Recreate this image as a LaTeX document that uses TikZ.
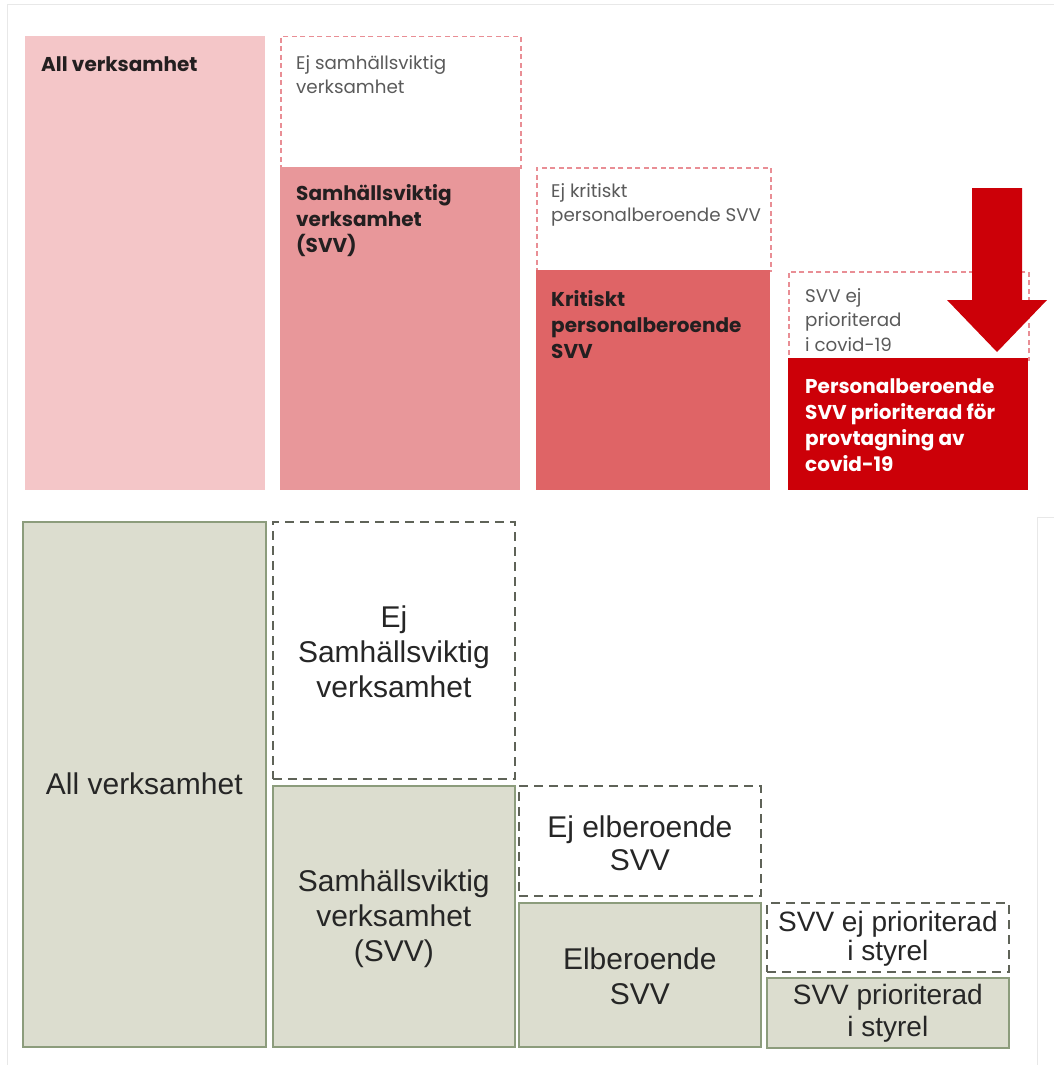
\documentclass[tikz,border=0pt]{standalone}
\usepackage{fontspec}
\setmainfont{Liberation Sans}
\newfontfamily\geofont{Poppins}
\usepackage{xcolor}
\usetikzlibrary{positioning}

\definecolor{rosaA}{HTML}{F4C6C8}
\definecolor{rosaB}{HTML}{E8979A}
\definecolor{rosaC}{HTML}{DF6466}
\definecolor{rodD}{HTML}{CC0008}
\definecolor{rosalinje}{HTML}{E98E95}
\definecolor{graatext}{HTML}{5A5A5A}
\definecolor{morktext}{HTML}{231F20}
\definecolor{salvia}{HTML}{DCDDCF}
\definecolor{salvialinje}{HTML}{8C9C7C}
\definecolor{streckgraa}{HTML}{5F6358}
\definecolor{ram}{HTML}{E8E8E8}

\tikzset{
  box/.style={rectangle, inner sep=0pt, anchor=north west},
  rosabox/.style={box, fill=#1},
  rosastreck/.style={box, draw=rosalinje, line width=1.5pt, dash pattern=on 5pt off 3.5pt},
  salviabox/.style={box, fill=salvia, draw=salvialinje, line width=1.6pt},
  salviastreck/.style={box, draw=streckgraa, line width=1.8pt, dash pattern=on 9pt off 6pt},
  fettext/.style={inner sep=0pt, align=left, text=morktext,
    font=\geofont\bfseries\fontsize{20}{26}\selectfont},
  tunntext/.style={inner sep=0pt, align=left, text=graatext,
    font=\geofont\fontsize{18.3}{24.5}\selectfont},
  mitttext/.style={inner sep=0pt, align=center, text=black!85,
    font=\fontsize{30}{35}\selectfont},
}

\begin{document}
\begin{tikzpicture}[x=1pt,y=-1pt]
\useasboundingbox (0,0) rectangle (1054,1065);
% svag ram runt bilderna
\draw[ram, line width=1pt] (7,5) -- (1054,5);
\draw[ram, line width=1pt] (7,5) -- (7,1065);
\draw[ram, line width=1pt] (1054,517) -- (1037,517) -- (1037,1065);

% ---- ovre delen
\node[rosabox=rosaA, minimum width=240pt, minimum height=454pt] (a1) at (25,36) {};
\node[rosastreck, minimum width=240pt, minimum height=131pt] (b1) at (280,36) {};
\node[rosabox=rosaB, minimum width=240pt, minimum height=323pt] (b2) at (280,167) {};
\node[rosastreck, minimum width=234pt, minimum height=103pt] (c1) at (536,167) {};
\node[rosabox=rosaC, minimum width=234pt, minimum height=220pt] (c2) at (536,270) {};
\node[rosastreck, minimum width=240pt, minimum height=88pt] (d1) at (788,271) {};
\node[rosabox=rodD, minimum width=240pt, minimum height=132pt] (d2) at (788,358) {};

\node[fettext, below right=20pt and 16pt of a1.north west] (ta1) {All verksamhet};
\node[tunntext, below right=19pt and 16pt of b1.north west] (tb1) {Ej samhällsviktig\\verksamhet};
\node[fettext, below right=17pt and 16pt of b2.north west] (tb2) {Samhällsviktig\\verksamhet\\(SVV)};
\node[tunntext, below right=16pt and 15pt of c1.north west] (tc1) {Ej kritiskt\\personalberoende SVV};
\node[fettext, below right=20pt and 15pt of c2.north west] (tc2) {Kritiskt\\personalberoende\\SVV};
\node[tunntext, below right=17pt and 17pt of d1.north west] (td1) {SVV ej\\prioriterad\\i covid-19};
\node[fettext, text=white, below right=20pt and 17pt of d2.north west] (td2) {Personalberoende\\SVV prioriterad för\\provtagning av\\covid-19};

% pilen
\fill[rodD] (972,188) -- (1022,188) -- (1022,300) -- (1047,300) -- (997,352)
  -- (947,300) -- (972,300) -- cycle;

% ---- nedre delen
\node[salviabox, minimum width=243pt, minimum height=525pt] (a) at (22,521) {};
\node[salviastreck, minimum width=242pt, minimum height=257pt] (b1n) at (272,521) {};
\node[salviabox, minimum width=242pt, minimum height=261pt] (b2n) at (272,785) {};
\node[salviastreck, minimum width=242pt, minimum height=110pt] (c1n) at (518,785) {};
\node[salviabox, minimum width=242pt, minimum height=144pt] (c2n) at (518,902) {};
\node[salviastreck, minimum width=242pt, minimum height=69pt] (d1n) at (766,902) {};
\node[salviabox, minimum width=242pt, minimum height=70pt] (d2n) at (766,977) {};

\node[mitttext] (ta) at ([yshift=1pt]a.center) {All verksamhet};
\node[mitttext] (tb1n) at ([yshift=-1pt]b1n.center) {Ej\\Samhällsviktig\\verksamhet};
\node[mitttext] (tb2n) at ([yshift=-2pt]b2n.center) {Samhällsviktig\\verksamhet\\(SVV)};
\node[mitttext, font=\fontsize{30}{33}\selectfont] (tc1n) at ([yshift=-2pt]c1n.center) {Ej elberoende\\SVV};
\node[mitttext] (tc2n) at ([yshift=-1pt]c2n.center) {Elberoende\\SVV};
\node[mitttext, font=\fontsize{28}{29}\selectfont] (td1n) at ([yshift=-1pt]d1n.center) {SVV ej prioriterad\\i styrel};
\node[mitttext, font=\fontsize{28}{32}\selectfont] (td2n) at ([yshift=0pt]d2n.center) {SVV prioriterad\\i styrel};
\end{tikzpicture}
\end{document}
